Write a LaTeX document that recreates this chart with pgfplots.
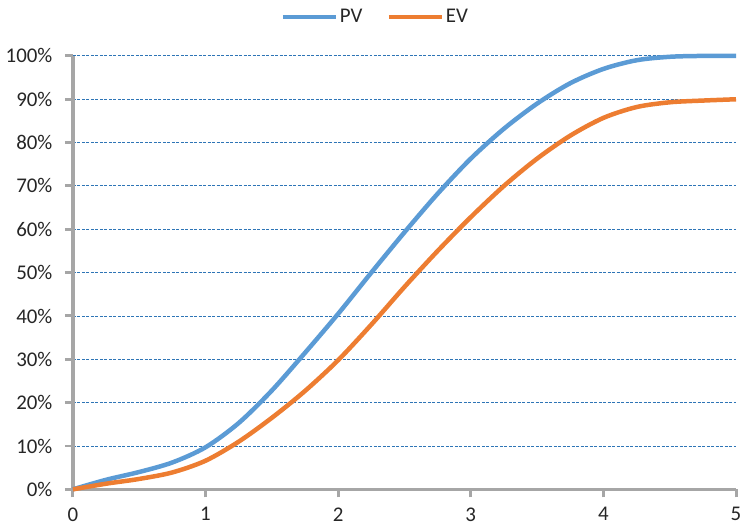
\documentclass[border=0pt]{standalone}
\usepackage{pgfplots}
\pgfplotsset{compat=1.18}
\usepackage{fontspec}
\setmainfont{Carlito}
\definecolor{pvblue}{HTML}{5B9BD5}
\definecolor{evorange}{HTML}{ED7D31}
\definecolor{gridblue}{HTML}{2E75B6}
\definecolor{axgray}{HTML}{A6A6A6}
\begin{document}
\begin{tikzpicture}
\begin{axis}[
  scale only axis,
  width=664bp, height=434bp,
  xmin=0, xmax=5, ymin=0, ymax=100,
  clip=false,
  axis x line*=bottom, axis y line*=left,
  axis line style={-, axgray, line width=3.5bp},
  xtick={0,1,2,3,4,5},
  ytick={0,10,20,30,40,50,60,70,80,90,100},
  yticklabels={0\%,10\%,20\%,30\%,40\%,50\%,60\%,70\%,80\%,90\%,100\%},
  tick align=outside,
  major tick length=8bp,
  tick style={axgray, line width=3bp},
  ymajorgrids,
  grid style={gridblue, line width=0.9bp, dash pattern=on 3bp off 1.5bp},
  tick label style={font=\fontsize{21}{24}\selectfont, text=black!85},
  /pgf/number format/assume math mode=true,
  yticklabel style={xshift=-9bp},
  xticklabel style={inner sep=1bp, yshift=-9bp},
  legend style={at={(0.456,1.09)}, anchor=center, draw=none, legend columns=2,
    font=\fontsize{21}{24}\selectfont, text=black!85,
    /tikz/every even column/.append style={column sep=22bp}},
  legend image code/.code={\draw[#1] (0bp,0bp) -- (53bp,0bp);},
]
\addplot[pvblue, line width=4.5bp, smooth] coordinates {
(0,0) (0.25,2.2) (0.5,4) (0.75,6.2) (1,9.7) (1.25,15.3) (1.5,22.8) (1.75,31.5)
(2,40.5) (2.25,50) (2.5,59.3) (2.75,68.2) (3,76.3) (3.25,83.2) (3.5,89)
(3.75,93.7) (4,97) (4.25,99) (4.5,99.8) (4.75,100) (5,100)};
\addlegendentry{PV}
\addplot[evorange, line width=4.5bp, smooth] coordinates {
(0,0) (0.25,1.3) (0.5,2.4) (0.75,3.9) (1,6.6) (1.25,11) (1.5,16.5) (1.75,22.7)
(2,29.8) (2.25,38) (2.5,46.7) (2.75,55) (3,62.8) (3.25,70) (3.5,76.3)
(3.75,81.6) (4,85.7) (4.25,88.2) (4.5,89.3) (4.75,89.7) (5,90)};
\addlegendentry{EV}
\coordinate (sw) at (rel axis cs:0,0);
\coordinate (ne) at (rel axis cs:1,1);
\end{axis}
\pgfresetboundingbox
\path ([shift={(-73bp,-34bp)}]sw) rectangle ([shift={(6bp,56bp)}]ne);
\end{tikzpicture}
\end{document}
